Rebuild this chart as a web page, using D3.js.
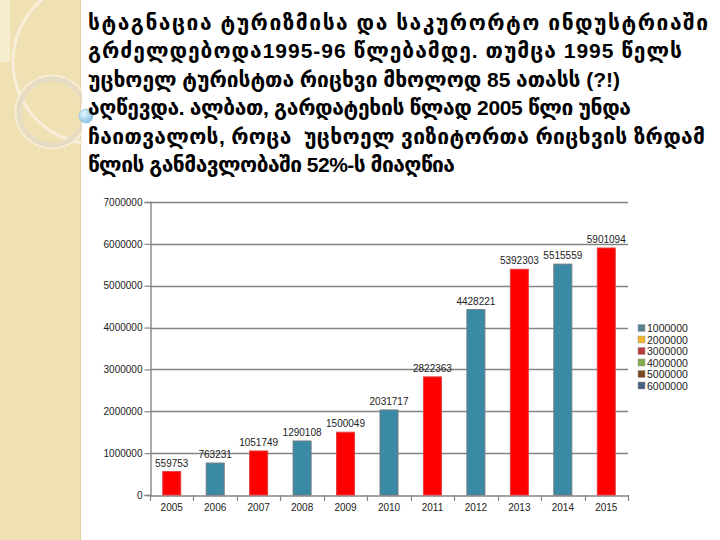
<!DOCTYPE html>
<html>
<head>
<meta charset="utf-8">
<script src="https://cdn.jsdelivr.net/npm/d3@7"></script>
<style>
html,body{margin:0;padding:0;background:#fff;}
svg{display:block;}
</style>
</head>
<body>
<svg id="chart" width="720" height="540"></svg>
<script>
// ---- data ----
const years = ["2005","2006","2007","2008","2009","2010","2011","2012","2013","2014","2015"];
const visitors = [559753, 763231, 1051749, 1290108, 1500049, 2031717, 2822363, 4428221, 5392303, 5515559, 5901094];
const yTicks = [0, 1000000, 2000000, 3000000, 4000000, 5000000, 6000000, 7000000];
const legendLabels = ["1000000","2000000","3000000","4000000","5000000","6000000"];
const legendColors = ["#5a7f8e","#f2b62e","#b83a3c","#84ab4a","#7c4a1f","#4a5f82"];
const titleLines = [
  "სტაგნაცია ტურიზმისა და საკურორტო ინდუსტრიაში",
  "გრძელდებოდა1995-96 წლებამდე. თუმცა 1995 წელს",
  "უცხოელ ტურისტთა რიცხვი მხოლოდ 85 ათასს (?!)",
  "აღწევდა. ალბათ, გარდატეხის წლად 2005 წლი უნდა",
  "ჩაითვალოს, როცა  უცხოელ ვიზიტორთა რიცხვის ზრდამ",
  "წლის განმავლობაში 52%-ს მიაღწია"
];
// layout: rendered width of each title line (px)
const titleWidths = [620, 594, 532, 543, 617, 367];

const svg = d3.select("#chart");

// ---- decorative left panel ----
const deco = svg.append("g");
deco.append("rect").attr("x",0).attr("y",0).attr("width",80).attr("height",540).attr("fill","#f0e1b5");
deco.append("rect").attr("x",0).attr("y",0).attr("width",10).attr("height",62).attr("fill","#f6ecd0");
deco.append("line").attr("x1",80.5).attr("x2",80.5).attr("y1",0).attr("y2",540).attr("stroke","#e0d1a4").attr("stroke-width",1);
const clipDeco = svg.append("clipPath").attr("id","decoclip");
clipDeco.append("rect").attr("x",0).attr("y",0).attr("width",82).attr("height",540);
const dg = svg.append("g").attr("clip-path","url(#decoclip)");
dg.append("circle").attr("cx",95).attr("cy",62).attr("r",82).attr("fill","none").attr("stroke","#f7efd9").attr("stroke-width",3);
dg.append("circle").attr("cx",52).attr("cy",112).attr("r",33).attr("fill","none").attr("stroke","#e6dcc4").attr("stroke-width",5);
dg.append("circle").attr("cx",52).attr("cy",112).attr("r",36.5).attr("fill","none").attr("stroke","#f6efdc").attr("stroke-width",1.5);
const bub = svg.append("defs").append("radialGradient").attr("id","bub").attr("cx","35%").attr("cy","35%").attr("r","70%");
bub.append("stop").attr("offset","0%").attr("stop-color","#e6f6ff");
bub.append("stop").attr("offset","100%").attr("stop-color","#7fc0e6");
svg.append("circle").attr("cx",86).attr("cy",116).attr("r",7).attr("fill","url(#bub)").attr("stroke","#8fbfd8").attr("stroke-width",0.6);

// ---- title text ----
const titleG = svg.append("g").attr("fill","#000");
titleLines.forEach((t,i)=>{
  const tx = titleG.append("text")
    .attr("x",88).attr("y",30 + i*28.4)
    .attr("font-size",21)
    .attr("font-weight","bold")
    .attr("textLength",titleWidths[i])
    .attr("lengthAdjust","spacing")
    .style("white-space","pre");
  const runs = t.split(/([\u10A0-\u10FF]+)/).filter(s=>s.length);
  runs.forEach(r=>{
    const geo = /[\u10A0-\u10FF]/.test(r);
    tx.append("tspan")
      .attr("font-family", geo ? "'DejaVu Sans', sans-serif" : "'Liberation Sans', Arial, sans-serif")
      .attr("font-weight","bold")
      .attr("font-size", 21)
      .text(r);
  });
});

// ---- chart ----
const x0 = 150, x1 = 628, yTop = 202, yBot = 495;
const x = d3.scaleBand().domain(years).range([x0,x1]).paddingInner(0).paddingOuter(0);
const y = d3.scaleLinear().domain([0,7000000]).range([yBot,yTop]);

const g = svg.append("g").attr("font-family","'Liberation Sans', Arial, sans-serif");

// gridlines
g.append("g").selectAll("line").data(yTicks.filter(v=>v>0)).join("line")
  .attr("x1",x0).attr("x2",x1)
  .attr("y1",d=>Math.round(y(d))+0.5).attr("y2",d=>Math.round(y(d))+0.5)
  .attr("stroke","#858585").attr("stroke-width",1.4);

// y axis
const yAxis = d3.axisLeft(y).tickValues(yTicks).tickSize(6).tickFormat(d3.format("d"));
const ya = g.append("g").attr("transform",`translate(${x0+0.5},0)`).call(yAxis);
ya.select(".domain").attr("stroke","#858585").attr("stroke-width",1.4);
ya.selectAll(".tick line").attr("stroke","#858585").attr("stroke-width",1.2);
ya.selectAll(".tick text").attr("font-size",10).attr("fill","#222").attr("x",-8).attr("font-family","'Liberation Sans', Arial, sans-serif");

// x axis
const xAxis = d3.axisBottom(x).tickSize(0);
const xa = g.append("g").attr("transform",`translate(0,${yBot+0.5})`).call(xAxis);
xa.select(".domain").attr("stroke","#858585").attr("stroke-width",1.4);
xa.selectAll(".tick text").attr("font-size",10).attr("fill","#222").attr("dy","1.25em").attr("font-family","'Liberation Sans', Arial, sans-serif");
// boundary ticks
g.append("g").selectAll("line").data(years.concat(["end"])).join("line")
  .attr("x1",(d,i)=>Math.round(x0 + i*x.bandwidth())+0.5)
  .attr("x2",(d,i)=>Math.round(x0 + i*x.bandwidth())+0.5)
  .attr("y1",yBot).attr("y2",yBot+6)
  .attr("stroke","#858585").attr("stroke-width",1.2);

// bars
const barW = 18;
const fillFor = i => i%2===0 ? "#ff0000" : "#3a8aa6";
const strokeFor = i => i%2===0 ? "#e04040" : "#6f7a80";
g.append("g").selectAll("rect").data(visitors).join("rect")
  .attr("x",(d,i)=>x(years[i]) + x.bandwidth()/2 - barW/2)
  .attr("y",d=>y(d))
  .attr("width",barW)
  .attr("height",d=>yBot - y(d))
  .attr("fill",(d,i)=>fillFor(i))
  .attr("stroke",(d,i)=>strokeFor(i))
  .attr("stroke-width",1);

// value labels
g.append("g").selectAll("text").data(visitors).join("text")
  .attr("x",(d,i)=>x(years[i]) + x.bandwidth()/2)
  .attr("y",d=>y(d) - 5)
  .attr("text-anchor","middle")
  .attr("font-size",10)
  .attr("fill","#222")
  .text(d=>d);

// legend
const lg = g.append("g").attr("transform","translate(638,324.5)");
const items = lg.selectAll("g").data(legendLabels).join("g")
  .attr("transform",(d,i)=>`translate(0,${i*11.5})`);
items.append("rect").attr("x",0).attr("y",0).attr("width",7).attr("height",7)
  .attr("fill",(d,i)=>legendColors[i]).attr("stroke","#999").attr("stroke-width",0.5);
items.append("text").attr("x",9).attr("y",7.5).attr("font-size",10.5).attr("fill","#222").text(d=>d);
</script>
</body>
</html>
